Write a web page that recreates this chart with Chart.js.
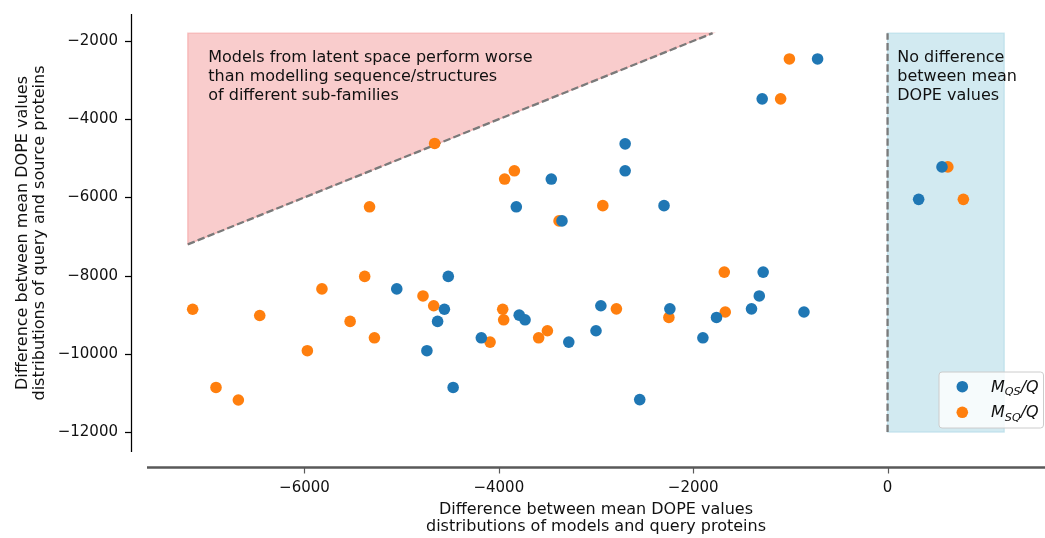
<!DOCTYPE html>
<html>
<head>
<meta charset="utf-8">
<script src="https://cdn.jsdelivr.net/npm/chart.js@4.4.1/dist/chart.umd.min.js"></script>
<style>
  html, body { margin: 0; padding: 0; background: #ffffff; }
  #wrap { width: 1045px; height: 538px; }
</style>
</head>
<body>
<div id="wrap"><canvas id="chart" width="1045" height="538"></canvas></div>
<script>
// M_QS/Q : models built from query -> source interpolation
const qsX = [-720, -1290, -2700, -3460, -2700, -3820, -2300, -3350, -1280, -4520,
             -5050, -4560, -4630, -4740, -4470, -3790, -3730, -4180, -3280, -2950,
             -2240, -1760, -1400, -1320, -860, -3000, -1900, -2550, 560, 320];
const qsY = [-2460, -3480, -4630, -5530, -5320, -6240, -6210, -6600, -7910, -8020,
             -8340, -8860, -9170, -9920, -10860, -9010, -9130, -9590, -9700, -8770,
             -8850, -9070, -8850, -8520, -8930, -9410, -9590, -11170, -5220, -6050];

// M_SQ/Q : models built from source -> query interpolation
const sqX = [-1010, -1100, -4660, -3840, -3940, -5330, -3380, -5380, -5820, -4780,
             -4670, -7150, -6460, -5530, -5280, -3960, -3950, -3500, -3590, -4090,
             -5970, -6910, -6680, -1680, -2790, -2250, -1670, 620, 780, -2930];
const sqY = [-2460, -3480, -4620, -5320, -5530, -6240, -6600, -8020, -8340, -8520,
             -8770, -8860, -9020, -9170, -9590, -8860, -9130, -9410, -9590, -9700,
             -9920, -10860, -11180, -7910, -8850, -9070, -8930, -5220, -6050, -6210];

const xTicks = [-6000, -4000, -2000, 0];
const yTicks = [-12000, -10000, -8000, -6000, -4000, -2000];
const xRange = [-7620, 1620];
const yRange = [-12510, -1310];

const xTitle = ['Difference between mean DOPE values', 'distributions of models and query proteins'];
const yTitle = ['Difference between mean DOPE values', 'distributions of query and source proteins'];

// region where latent-space models are worse: above the y = x diagonal
const worseDiag = [-7200, -1800];
// region of no difference: 0 <= x <= 1200
const sameBoxX = [0, 1200];
const sameBoxY = [-12000, -1800];

const worseText = ['Models from latent space perform worse', 'than modelling sequence/structures', 'of different sub-families'];
const worseTextAt = [-6990, -2550];
const sameText = ['No difference', 'between mean', 'DOPE values'];
const sameTextAt = [100, -2550];

const legendItems = [
  { main: 'M', sub: 'QS', tail: '/Q', color: '#1f77b4' },
  { main: 'M', sub: 'SQ', tail: '/Q', color: '#ff7f0e' }
];

const FONT = 'DejaVu Sans';
const INK = '#111111';
const fmt = v => (v < 0 ? '\u2212' + Math.abs(v) : String(v));

const toPoints = (xs, ys) => xs.map((v, i) => ({ x: v, y: ys[i] }));

const decor = {
  id: 'decor',
  beforeDatasetsDraw(chart) {
    const { ctx, scales: { x, y } } = chart;
    ctx.save();

    // shaded triangle above the diagonal
    const a = x.getPixelForValue(worseDiag[0]);
    const b = x.getPixelForValue(worseDiag[1]);
    const ya = y.getPixelForValue(worseDiag[0]);
    const yb = y.getPixelForValue(worseDiag[1]);
    ctx.beginPath();
    ctx.moveTo(a, ya);
    ctx.lineTo(a, yb);
    ctx.lineTo(b, yb);
    ctx.closePath();
    ctx.fillStyle = 'rgba(240,128,128,0.4)';
    ctx.fill();
    ctx.strokeStyle = 'rgba(240,128,128,0.45)';
    ctx.lineWidth = 1.3;
    ctx.stroke();

    // shaded band of no difference
    const r0 = x.getPixelForValue(sameBoxX[0]);
    const r1 = x.getPixelForValue(sameBoxX[1]);
    const t0 = y.getPixelForValue(sameBoxY[1]);
    const t1 = y.getPixelForValue(sameBoxY[0]);
    ctx.fillStyle = 'rgba(173,216,230,0.55)';
    ctx.fillRect(r0, t0, r1 - r0, t1 - t0);
    ctx.strokeStyle = 'rgba(173,216,230,0.6)';
    ctx.lineWidth = 1.3;
    ctx.strokeRect(r0, t0, r1 - r0, t1 - t0);

    // dashed reference lines
    ctx.setLineDash([7.4, 3.2]);
    ctx.strokeStyle = '#7a7a7a';
    ctx.lineWidth = 2.3;
    ctx.beginPath();
    ctx.moveTo(a, ya);
    ctx.lineTo(b, yb);
    ctx.stroke();
    ctx.beginPath();
    ctx.moveTo(r0, t1);
    ctx.lineTo(r0, t0);
    ctx.stroke();
    ctx.setLineDash([]);

    // region captions
    ctx.fillStyle = INK;
    ctx.font = '16px "' + FONT + '"';
    ctx.textBaseline = 'alphabetic';
    ctx.textAlign = 'left';
    const lh = 19;
    const wx = x.getPixelForValue(worseTextAt[0]);
    const wy = y.getPixelForValue(worseTextAt[1]);
    worseText.forEach((s, i) => ctx.fillText(s, wx, wy + i * lh));
    const sx = x.getPixelForValue(sameTextAt[0]);
    const sy = y.getPixelForValue(sameTextAt[1]);
    sameText.forEach((s, i) => ctx.fillText(s, sx, sy + i * lh));
    ctx.restore();
  },
  afterDraw(chart) {
    const { ctx, chartArea: ca, scales: { x, y } } = chart;
    ctx.save();

    // left spine, offset from the data area
    const sx = ca.left - 15.5;
    ctx.strokeStyle = '#000000';
    ctx.lineWidth = 1.25;
    ctx.beginPath();
    ctx.moveTo(sx, ca.top);
    ctx.lineTo(sx, ca.bottom);
    ctx.stroke();
    yTicks.forEach(v => {
      const py = Math.round(y.getPixelForValue(v)) + 0.5;
      ctx.beginPath();
      ctx.moveTo(sx - 6.5, py);
      ctx.lineTo(sx, py);
      ctx.stroke();
    });

    // bottom spine, offset from the data area
    const sy = ca.bottom + 15.5;
    ctx.strokeStyle = '#595959';
    ctx.lineWidth = 2.4;
    ctx.beginPath();
    ctx.moveTo(ca.left, sy);
    ctx.lineTo(ca.right, sy);
    ctx.stroke();
    ctx.lineWidth = 1.2;
    xTicks.forEach(v => {
      const px = Math.round(x.getPixelForValue(v)) + 0.5;
      ctx.beginPath();
      ctx.moveTo(px, sy);
      ctx.lineTo(px, sy + 6);
      ctx.stroke();
    });

    // legend
    const bw = 104.5, bh = 56;
    const bx = ca.right - 1.5 - bw;
    const by = ca.bottom - 24 - bh;
    ctx.beginPath();
    ctx.roundRect(bx, by, bw, bh, 3);
    ctx.fillStyle = 'rgba(255,255,255,0.8)';
    ctx.fill();
    ctx.strokeStyle = '#cccccc';
    ctx.lineWidth = 1;
    ctx.stroke();
    legendItems.forEach((it, i) => {
      const cy = by + 14.7 + i * 25.6;
      ctx.beginPath();
      ctx.arc(bx + 23.3, cy, 5.8, 0, Math.PI * 2);
      ctx.fillStyle = it.color;
      ctx.fill();
      const base = cy + 5;
      let tx = bx + 52;
      ctx.fillStyle = INK;
      ctx.textAlign = 'left';
      ctx.textBaseline = 'alphabetic';
      ctx.font = 'italic 16px "' + FONT + '"';
      ctx.fillText(it.main, tx, base);
      tx += ctx.measureText(it.main).width;
      ctx.font = 'italic 11.2px "' + FONT + '"';
      ctx.fillText(it.sub, tx, base + 3.5);
      tx += ctx.measureText(it.sub).width;
      ctx.font = 'italic 16px "' + FONT + '"';
      ctx.fillText(it.tail, tx, base);
    });
    ctx.restore();
  }
};

new Chart(document.getElementById('chart'), {
  type: 'scatter',
  data: {
    datasets: [
      { label: 'M_QS/Q', data: toPoints(qsX, qsY), backgroundColor: '#1f77b4',
        pointRadius: 5.8, pointHoverRadius: 5.8, borderWidth: 0 },
      { label: 'M_SQ/Q', data: toPoints(sqX, sqY), backgroundColor: '#ff7f0e',
        pointRadius: 5.8, pointHoverRadius: 5.8, borderWidth: 0 }
    ]
  },
  options: {
    responsive: false,
    animation: false,
    devicePixelRatio: 1,
    events: [],
    layout: { autoPadding: false, padding: { left: 0, top: 14, right: 0, bottom: 0 } },
    plugins: { legend: { display: false }, tooltip: { enabled: false } },
    scales: {
      x: {
        type: 'linear',
        min: xRange[0], max: xRange[1],
        grid: { display: false, drawTicks: false },
        border: { display: false },
        afterBuildTicks: s => { s.ticks = xTicks.map(v => ({ value: v })); },
        afterFit: s => { s.height = 86; s.paddingLeft = 0; s.paddingRight = 0; },
        ticks: { padding: 27, color: INK, font: { family: FONT, size: 15 },
                 maxRotation: 0, autoSkip: false, callback: fmt },
        title: { display: true, text: xTitle, color: INK,
                 font: { family: FONT, size: 16, lineHeight: 1.05 },
                 padding: { top: 0, bottom: 2.5 } }
      },
      y: {
        type: 'linear',
        min: yRange[0], max: yRange[1],
        grid: { display: false, drawTicks: false },
        border: { display: false },
        afterBuildTicks: s => { s.ticks = yTicks.map(v => ({ value: v })); },
        afterFit: s => { s.width = 147; s.paddingTop = 0; s.paddingBottom = 0; },
        ticks: { padding: 29, color: INK, font: { family: FONT, size: 15 },
                 autoSkip: false, callback: fmt },
        title: { display: true, text: yTitle, color: INK,
                 font: { family: FONT, size: 16, lineHeight: 1.05 },
                 padding: { top: 14.6, bottom: 0 } }
      }
    }
  },
  plugins: [decor]
});
</script>
</body>
</html>
